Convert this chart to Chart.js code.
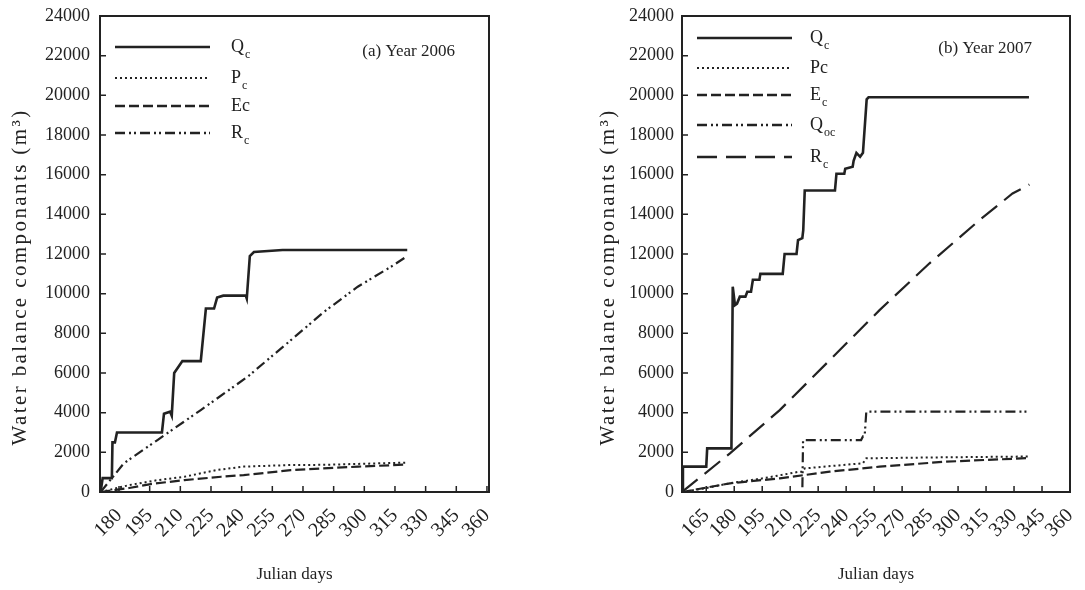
<!DOCTYPE html>
<html>
<head>
<meta charset="utf-8">
<title>Cumulative water balance components</title>
<script src="https://cdn.jsdelivr.net/npm/chart.js@4.4.1/dist/chart.umd.min.js"></script>
<style>
  body { margin: 0; background: #fff; }
  #wrap { position: relative; width: 1085px; height: 590px; overflow: hidden; }
  #c2006 { position: absolute; left: 0; top: 0; }
  #c2007 { position: absolute; left: 590px; top: 0; }
</style>
</head>
<body>
<div id="wrap">
  <canvas id="c2006" width="540" height="590"></canvas>
  <canvas id="c2007" width="520" height="590"></canvas>
</div>
<script>
// ---- axis ticks ----
var dayTicks2006 = [180, 195, 210, 225, 240, 255, 270, 285, 300, 315, 330, 345, 360];
var dayTicks2007 = [165, 180, 195, 210, 225, 240, 255, 270, 285, 300, 315, 330, 345, 360];
var volumeTicks = [0, 2000, 4000, 6000, 8000, 10000, 12000, 14000, 16000, 18000, 20000, 22000, 24000];

// ---- 2006 (cumulative m3) ----
var qcDays06 = [171, 172, 176.5, 176.8, 178, 179, 201, 202, 205, 205.8, 207, 209, 211, 220, 222.5, 226.5, 228, 231, 242, 242.5, 244, 246, 260, 321];
var qc06     = [0, 700, 700, 2500, 2500, 3000, 3000, 3950, 4050, 3850, 6000, 6300, 6600, 6600, 9250, 9250, 9800, 9900, 9900, 9750, 11900, 12100, 12200, 12200];

var pcDays06 = [171, 185, 199, 212, 228, 241, 264, 280, 320];
var pc06     = [0, 350, 600, 770, 1110, 1280, 1360, 1370, 1480];

var ecDays06 = [171, 185, 195.5, 212, 230, 241, 264, 297, 320];
var ec06     = [0, 200, 400, 600, 770, 850, 1100, 1280, 1380];

var rcDays06 = [171, 182.4, 198.8, 220, 242.9, 264.1, 280.4, 296.8, 313.1, 320.5];
var rc06     = [0, 1450, 2620, 4130, 5810, 7660, 9090, 10350, 11360, 11860];

// ---- 2007 (cumulative m3) ----
var qcDays07 = [152, 152.5, 165, 165.5, 178.5, 179.2, 180.4, 181.5, 183, 186, 187, 189, 190, 193.5, 194, 206, 207, 213.4, 214.2, 216.5, 217, 217.8, 234, 234.8, 239, 239.5, 243.5, 244, 245.5, 247.5, 249, 251, 252, 338];
var qc07     = [0, 1280, 1280, 2200, 2200, 10350, 9420, 9500, 9850, 9850, 10100, 10100, 10700, 10700, 11000, 11000, 12000, 12000, 12700, 12800, 13200, 15200, 15200, 16050, 16050, 16300, 16400, 16700, 17100, 16900, 17100, 19800, 19900, 19900];

var pcDays07 = [152, 165, 177.7, 195.5, 215, 216.5, 217.8, 249, 250.8, 293.6, 338];
var pc07     = [0, 200, 440, 690, 1025, 1025, 1190, 1450, 1700, 1750, 1790];

var ecDays07 = [152, 177.7, 204.4, 231.2, 257.9, 293.6, 338];
var ec07     = [0, 437, 690, 1025, 1277, 1530, 1710];

var qocDays07 = [152, 216.5, 216.9, 248, 249, 249.9, 250.8, 338.5];
var qoc07     = [0, 0, 2620, 2620, 2800, 2800, 4050, 4050];

var rcDays07 = [152, 177.7, 204.4, 231.2, 257.9, 284.7, 311.4, 329.2, 338.2];
var rc07     = [0, 1950, 4130, 6650, 9170, 11530, 13700, 15050, 15500];

var serif = '"Liberation Serif", "Times New Roman", serif';
var ink = '#222';

// line styles
var SOLID = [];
var DOTS = [2, 3];
var DASH = [10, 4];
var DASH_DOT_DOT = [10, 4, 2, 3, 2, 4];
var LONG_DASH = [20, 9];

function pts(days, vals) {
  return days.map(function (d, i) { return { x: d, y: vals[i] }; });
}

function series(days, vals, dash, width) {
  return {
    data: pts(days, vals),
    borderColor: ink,
    borderWidth: width,
    borderDash: dash,
    borderCapStyle: 'butt',
    pointRadius: 0,
    tension: 0,
    fill: false
  };
}

// box, inward ticks, key, panel label and y title
var panelDeco = {
  id: 'panelDeco',
  afterDatasetsDraw: function (chart, args, opts) {
    var ctx = chart.ctx, a = chart.chartArea;
    var x = chart.scales.x, y = chart.scales.y;
    ctx.save();
    ctx.strokeStyle = ink;
    ctx.lineWidth = 2;
    ctx.strokeRect(a.left, a.top, a.right - a.left, a.bottom - a.top);

    ctx.lineWidth = 1.5;
    ctx.beginPath();
    x.ticks.forEach(function (t) {
      var px = x.getPixelForValue(t.value);
      ctx.moveTo(px, a.bottom);
      ctx.lineTo(px, a.bottom - 6);
    });
    y.ticks.forEach(function (t) {
      var py = y.getPixelForValue(t.value);
      ctx.moveTo(a.left, py);
      ctx.lineTo(a.left + 6, py);
    });
    ctx.stroke();

    // key
    ctx.fillStyle = ink;
    ctx.textBaseline = 'alphabetic';
    opts.items.forEach(function (it) {
      var ly = a.top + it.dy;
      ctx.beginPath();
      ctx.setLineDash(it.dash);
      ctx.lineWidth = it.width;
      ctx.moveTo(a.left + 15, ly);
      ctx.lineTo(a.left + 110, ly);
      ctx.stroke();
      ctx.setLineDash([]);
      ctx.font = '18px ' + serif;
      ctx.textAlign = 'left';
      var tx = a.left + opts.textDx;
      ctx.fillText(it.name, tx, ly + 5);
      if (it.sub) {
        var w = ctx.measureText(it.name).width;
        ctx.font = '12px ' + serif;
        ctx.fillText(it.sub, tx + w + 1, ly + 11);
      }
    });

    // panel label
    ctx.font = '17px ' + serif;
    ctx.textAlign = 'right';
    ctx.fillText(opts.label, a.right - opts.labelDx, a.top + opts.labelDy);

    // y axis title
    ctx.translate(opts.yTitleX, 277);
    ctx.rotate(-Math.PI / 2);
    ctx.font = '21px ' + serif;
    ctx.letterSpacing = '2.4px';
    ctx.textAlign = 'center';
    ctx.textBaseline = 'middle';
    ctx.fillText('Water balance componants (m\u00b3)', 0, 0);
    ctx.restore();
  }
};

function makeChart(id, datasets, dayMin, dayMax, dayTicks, yWidth, yPad, pad, deco) {
  return new Chart(document.getElementById(id).getContext('2d'), {
    type: 'line',
    data: { datasets: datasets },
    plugins: [panelDeco],
    options: {
      responsive: false,
      animation: false,
      events: [],
      layout: { padding: pad },
      plugins: {
        legend: { display: false },
        tooltip: { enabled: false },
        panelDeco: deco
      },
      scales: {
        x: {
          type: 'linear',
          min: dayMin,
          max: dayMax,
          afterBuildTicks: function (s) {
            s.ticks = dayTicks.map(function (v) { return { value: v }; });
          },
          afterFit: function (s) { s.height = 97; },
          grid: { display: false },
          border: { display: false },
          ticks: {
            autoSkip: false,
            minRotation: 45,
            maxRotation: 45,
            padding: 4,
            color: ink,
            font: { family: serif, size: 20 },
            callback: function (v) { return String(v); }
          },
          title: {
            display: true,
            text: 'Julian days',
            color: ink,
            font: { family: serif, size: 17 }
          }
        },
        y: {
          min: 0,
          max: 24000,
          afterBuildTicks: function (s) {
            s.ticks = volumeTicks.map(function (v) { return { value: v }; });
          },
          afterFit: function (s) { s.width = yWidth; },
          grid: { display: false },
          border: { display: false },
          ticks: {
            padding: yPad,
            color: ink,
            font: { family: serif, size: 18 },
            callback: function (v) { return String(v); }
          }
        }
      }
    }
  });
}

makeChart('c2006', [
  series(qcDays06, qc06, SOLID, 2.6),
  series(pcDays06, pc06, DOTS, 2),
  series(ecDays06, ec06, DASH, 2.2),
  series(rcDays06, rc06, DASH_DOT_DOT, 2.2)
], 170.7, 361, dayTicks2006, 96, 2, { left: 4, right: 51, top: 16, bottom: 1 }, {
  items: [
    { name: 'Q', sub: 'c', dash: SOLID, width: 2.6, dy: 31 },
    { name: 'P', sub: 'c', dash: DOTS, width: 2, dy: 62 },
    { name: 'Ec', sub: '', dash: DASH, width: 2.4, dy: 90 },
    { name: 'R', sub: 'c', dash: DASH_DOT_DOT, width: 2.4, dy: 117 }
  ],
  textDx: 131,
  label: '(a) Year 2006',
  labelDx: 34,
  labelDy: 40,
  yTitleX: 20
});

makeChart('c2007', [
  series(qcDays07, qc07, SOLID, 2.6),
  series(pcDays07, pc07, DOTS, 2),
  series(ecDays07, ec07, DASH, 2.2),
  series(qocDays07, qoc07, DASH_DOT_DOT, 2.2),
  series(rcDays07, rc07, LONG_DASH, 2.2)
], 152, 360, dayTicks2007, 88, 0, { left: 4, right: 40, top: 16, bottom: 1 }, {
  items: [
    { name: 'Q', sub: 'c', dash: SOLID, width: 2.6, dy: 22 },
    { name: 'Pc', sub: '', dash: DOTS, width: 2, dy: 52 },
    { name: 'E', sub: 'c', dash: DASH, width: 2.4, dy: 79 },
    { name: 'Q', sub: 'oc', dash: DASH_DOT_DOT, width: 2.4, dy: 109 },
    { name: 'R', sub: 'c', dash: LONG_DASH, width: 2.4, dy: 141 }
  ],
  textDx: 128,
  label: '(b) Year 2007',
  labelDx: 38,
  labelDy: 37,
  yTitleX: 18
});
</script>
</body>
</html>
